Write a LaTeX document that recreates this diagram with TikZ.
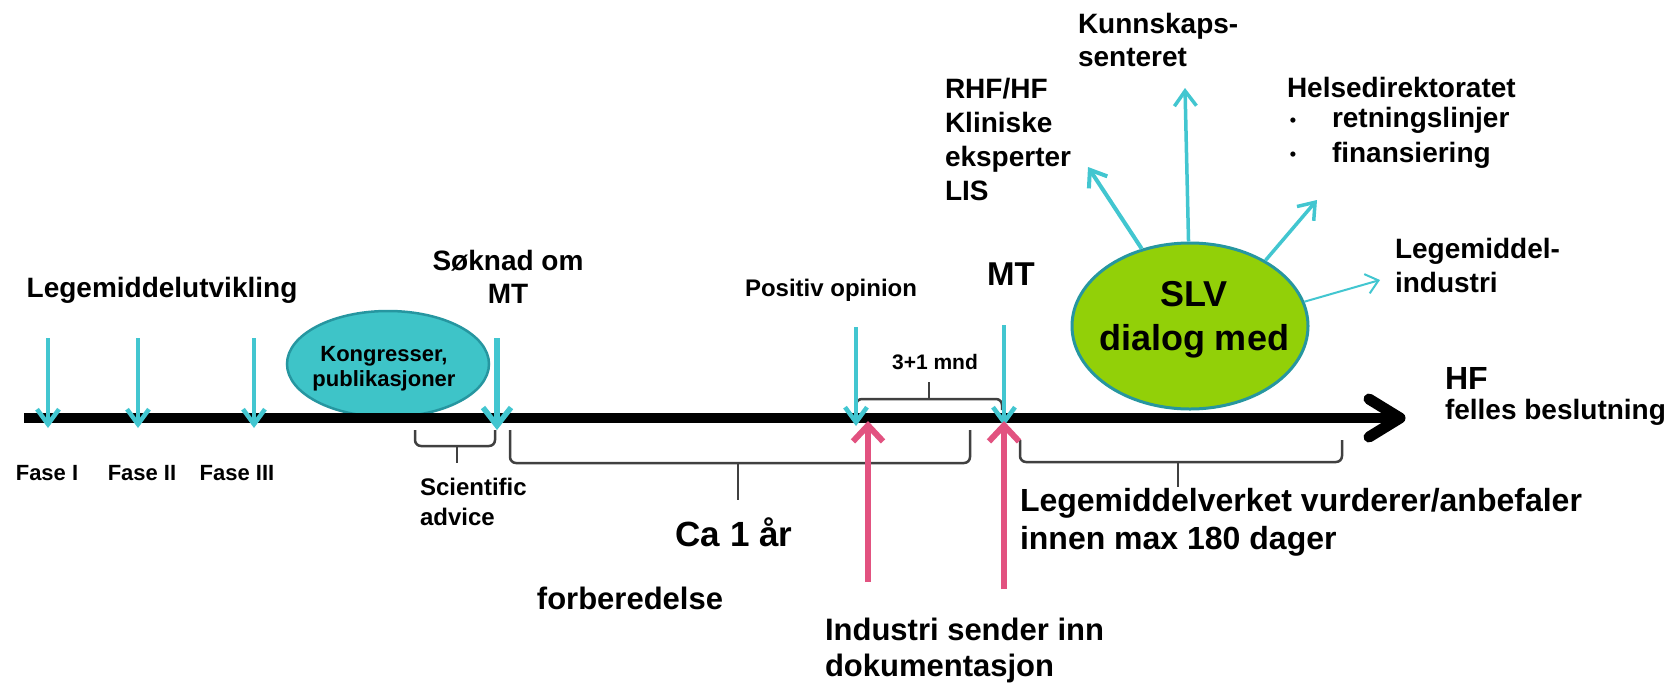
\documentclass[tikz,border=0pt]{standalone}
\usepackage{fontspec}
\setmainfont{Liberation Sans}
\usetikzlibrary{arrows.meta,shapes.geometric}
\definecolor{cy}{RGB}{66,198,208}
\definecolor{cyfill}{RGB}{62,196,200}
\definecolor{cyline}{RGB}{38,150,160}
\definecolor{lime}{RGB}{146,208,8}
\definecolor{pinkc}{RGB}{226,82,128}
\definecolor{brk}{RGB}{64,64,64}
\newcommand{\fz}[2]{\fontsize{#1}{#2}\selectfont\bfseries}
\begin{document}
\begin{tikzpicture}[x=1pt,y=-1pt,
  txt/.style={inner sep=0pt, outer sep=0pt},
  cyarr/.style={draw=cy, line width=4.5pt, -{Straight Barb[length=15pt,width=22pt]}},
  cyarrbig/.style={draw=cy, line width=5.5pt, -{Straight Barb[length=18pt,width=28pt]}},
  cythin/.style={draw=cy, line width=2pt, -{Straight Barb[length=12pt,width=20pt]}},
  pinkarr/.style={draw=pinkc, line width=6pt, -{Straight Barb[length=16pt,width=30pt]}},
  bracket/.style={draw=brk, line width=2.5pt, rounded corners=6pt},
  tick/.style={draw=brk, line width=2.5pt}]
\fill[white] (0,0) rectangle (1670,686);
\useasboundingbox (0,0) rectangle (1670,686);

% ellipses
\node[ellipse, fill=cyfill, draw=cyline, line width=2.5pt, minimum width=202pt, minimum height=106pt, inner sep=0pt] (kong) at (388,364) {};
\node[ellipse, fill=lime, draw=cyline, line width=3pt, minimum width=236pt, minimum height=166pt, inner sep=0pt] (slv) at (1190,326) {};

% timeline
\coordinate (tlstart) at (24,418);
\coordinate (tlend) at (1400,418);
\coordinate (chevA) at (1369,399);
\coordinate (chevB) at (1369,437);
\draw[line width=10pt] (tlstart) -- (tlend);
\draw[line width=11pt, line cap=round, line join=round] (chevA) -- (tlend) -- (chevB);

% texts
\node[txt, font=\fz{28}{34}] (leg) at (162,290) {Legemiddelutvikling};
\node[txt, font=\fz{22}{26}] (fase1) at (47,473) {Fase I};
\node[txt, font=\fz{22}{26}] (fase2) at (142,473) {Fase II};
\node[txt, font=\fz{22}{26}] (fase3) at (237,473) {Fase III};
\node[txt, font=\fz{22}{25}, align=center] (kongtxt) at (384,369) {Kongresser,\\publikasjoner};
\node[txt, font=\fz{28}{33}, align=center] (soknad) at (508,277) {Søknad om\\MT};
\node[txt, font=\fz{24}{30}, align=left, anchor=west] (sci) at (420,502) {Scientific\\advice};
\node[txt, font=\fz{35}{40}] (ca) at (734,532) {Ca 1 år};
\node[txt, font=\fz{31}{36}] (forb) at (630,598) {forberedelse};
\node[txt, font=\fz{24}{28}] (pos) at (831,290) {Positiv opinion};
\node[txt, font=\fz{21}{25}] (mnd) at (935,362) {3+1 mnd};
\node[txt, font=\fz{33}{38}] (mt) at (1011,274) {MT};
\node[txt, font=\fz{31}{36}, align=left, anchor=west] (ind) at (825,650) {Industri sender inn\\dokumentasjon};
\node[txt, font=\fz{32}{38}, align=left, anchor=west] (lmv) at (1020,522) {Legemiddelverket vurderer/anbefaler\\innen max 180 dager};
\node[txt, font=\fz{32}{36}, anchor=west] (hf) at (1445,378) {HF};
\node[txt, font=\fz{28}{32}, anchor=west] (felles) at (1445,412) {felles beslutning};
\node[txt, font=\fz{36}{44}, align=center] (slvtxt) at (1194,320) {SLV\\dialog med};
\node[txt, font=\fz{28}{34}, align=left, anchor=west] (rhf) at (945,139) {RHF/HF\\Kliniske\\eksperter\\LIS};
\node[txt, font=\fz{28}{33}, align=left, anchor=west] (kun) at (1078,40) {Kunnskaps-\\senteret};
\node[txt, font=\fz{28}{34}, anchor=west] (helse) at (1287,87) {Helsedirektoratet};
\node[txt, font=\fz{18}{20}] (b1) at (1293,122) {•};
\node[txt, font=\fz{18}{20}] (b2) at (1293,156) {•};
\node[txt, font=\fz{28}{34}, anchor=west] (retn) at (1332,120) {retningslinjer};
\node[txt, font=\fz{28}{34}, anchor=west] (fin) at (1332,155) {finansiering};
\node[txt, font=\fz{28}{34}, align=left, anchor=west] (lmi) at (1395,265) {Legemiddel-\\industri};

% brackets
\draw[bracket] (415,430) -- (415,446) -- (495,446) -- (495,430);
\draw[tick] (457,446) -- (457,463);
\draw[bracket] (510,430) -- (510,463) -- (970,463) -- (970,430);
\draw[tick] (738,463) -- (738,500);
\draw[bracket] (856,410) -- (856,399) -- (1002,399) -- (1002,410);
\draw[tick] (929,399) -- (929,382);
\draw[bracket] (1020,440) -- (1020,462) -- (1342,462) -- (1342,440);
\draw[tick] (1178,462) -- (1178,487);

% down arrows onto timeline
\coordinate (f1t) at (48,338);  \coordinate (f1b) at (48,428);
\coordinate (f2t) at (138,338); \coordinate (f2b) at (138,428);
\coordinate (f3t) at (254,338); \coordinate (f3b) at (254,428);
\coordinate (skt) at (497,338); \coordinate (skb) at (497,430);
\coordinate (pot) at (856,327); \coordinate (pob) at (856,426);
\coordinate (mtt) at (1004,325); \coordinate (mtb) at (1004,426);
\draw[cyarr] (f1t) -- (f1b);
\draw[cyarr] (f2t) -- (f2b);
\draw[cyarr] (f3t) -- (f3b);
\draw[cyarrbig] (skt) -- (skb);
\draw[cyarr] (pot) -- (pob);
\draw[cyarr] (mtt) -- (mtb);

% pink arrows
\coordinate (p1b) at (868,582); \coordinate (p1t) at (868,421);
\coordinate (p2b) at (1004,589); \coordinate (p2t) at (1004,421);
\draw[pinkarr] (p1b) -- (p1t);
\draw[pinkarr] (p2b) -- (p2t);

% arrows from SLV
\coordinate (rhftip) at (1088,167);
\coordinate (kuntip) at (1185,88);
\coordinate (helsetip) at (1317,200);
\coordinate (lmitip) at (1380,280);
\draw[cyarr, line width=4pt] (slv.122) -- (rhftip);
\draw[cyarr, line width=3.5pt] (slv.91) -- (kuntip);
\draw[cyarr, line width=3.5pt] (slv.41) -- (helsetip);
\draw[cythin] (slv.12) -- (lmitip);
\end{tikzpicture}
\end{document}
